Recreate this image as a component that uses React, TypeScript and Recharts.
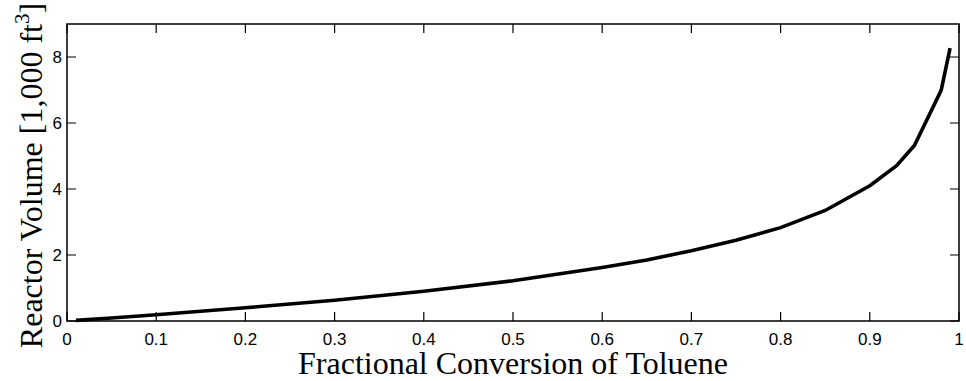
import { LineChart, Line, XAxis, YAxis, Label, ReferenceArea } from "recharts"

// fractional conversion X and reactor volume (1,000 ft^3)
const conversion = [0.01, 0.05, 0.1, 0.2, 0.3, 0.4, 0.5, 0.6, 0.65, 0.7, 0.75, 0.8, 0.85, 0.9, 0.93, 0.95, 0.98, 0.99]
const volume = [0.02, 0.09, 0.19, 0.4, 0.63, 0.9, 1.22, 1.62, 1.85, 2.13, 2.45, 2.83, 3.35, 4.1, 4.71, 5.32, 6.99, 8.27]

const xTicks = [0, 0.1, 0.2, 0.3, 0.4, 0.5, 0.6, 0.7, 0.8, 0.9, 1]
const yTicks = [0, 2, 4, 6, 8]
const xTickLabels = ["0", "0.1", "0.2", "0.3", "0.4", "0.5", "0.6", "0.7", "0.8", "0.9", "1"]

const data = conversion.map((x, i) => ({ x, v: volume[i] }))

const sans = "Liberation Sans, Arial, sans-serif"
const serif = "Liberation Serif, Times New Roman, serif"

const W = 966
const H = 381
const M = { top: 24, right: 7, bottom: 0, left: 0 }
const plotTop = M.top
const plotRight = W - M.right
const TICK = 9

// x tick: label below, inward ticks at bottom and top
const XTick = ({ x, y, payload }: any) => (
  <g>
    <path d={`M${x},${y}v${-TICK}M${x},${plotTop}v${TICK}`} stroke="#000" strokeWidth={1.2} fill="none" />
    <text x={x} y={y + 24} textAnchor="middle" fontFamily={sans} fontSize={17} fill="#000">
      {xTickLabels[xTicks.indexOf(payload.value)] ?? payload.value}
    </text>
  </g>
)

// y tick: label left, inward ticks at left and right
const YTick = ({ x, y, payload }: any) => (
  <g>
    <path d={`M${x},${y}h${TICK}M${plotRight},${y}h${-TICK}`} stroke="#000" strokeWidth={1.2} fill="none" />
    <text x={x - 5} y={y + 6} textAnchor="end" fontFamily={sans} fontSize={17} fill="#000">
      {payload.value}
    </text>
  </g>
)

const YTitle = ({ viewBox }: any) => {
  const cx = 42
  const cy = viewBox.y + viewBox.height / 2 + 3
  return (
    <text
      x={cx}
      y={cy}
      transform={`rotate(-90, ${cx}, ${cy})`}
      textAnchor="middle"
      fontFamily={serif}
      fontSize={32}
      fill="#000"
    >
      Reactor Volume [1,000 ft
      <tspan dy={-13} fontSize={21}>3</tspan>
      <tspan dy={13}>]</tspan>
    </text>
  )
}

export default function App() {
  return (
    <div style={{ position: "absolute", left: 0, top: 0, background: "#fff" }}>
      <LineChart width={W} height={H} data={data} margin={M}>
        <XAxis
          dataKey="x"
          type="number"
          domain={[0, 1]}
          ticks={xTicks}
          tickLine={false}
          tickSize={0}
          tickMargin={0}
          axisLine={false}
          tick={<XTick />}
          height={60}
          interval={0}
        >
          <Label value="Fractional Conversion of Toluene" position="insideBottom" offset={7}
            style={{ fontFamily: serif, fontSize: 32, fill: "#000" }} />
        </XAxis>
        <YAxis
          type="number"
          domain={[0, 9]}
          ticks={yTicks}
          width={67}
          tickLine={false}
          tickSize={0}
          tickMargin={0}
          axisLine={false}
          tick={<YTick />}
          interval={0}
        >
          <Label content={<YTitle />} />
        </YAxis>
        <ReferenceArea x1={0} x2={1} y1={0} y2={9} fill="none" stroke="#000" strokeWidth={1.5} ifOverflow="visible" />
        <Line
          type="linear"
          dataKey="v"
          stroke="#000"
          strokeWidth={3.6}
          dot={false}
          isAnimationActive={false}
        />
      </LineChart>
    </div>
  )
}
